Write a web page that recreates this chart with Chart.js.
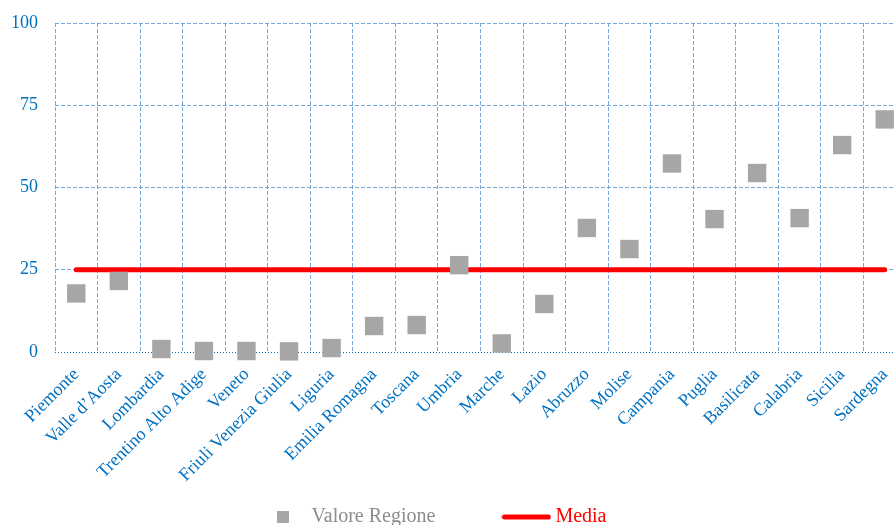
<!DOCTYPE html>
<html>
<head>
<meta charset="utf-8">
<script src="https://cdn.jsdelivr.net/npm/chart.js@4"></script>
<style>
  html, body { margin: 0; padding: 0; background: #fff; overflow: hidden; }
  #wrap { width: 894px; height: 525px; position: relative; overflow: hidden; }
</style>
</head>
<body>
<!-- the plot runs past the right edge of the picture, as in the original -->
<div id="wrap"><canvas id="chart" width="906" height="525"></canvas></div>
<script>
const regioni = [
  "Piemonte", "Valle d\u2019Aosta", "Lombardia", "Trentino Alto Adige", "Veneto",
  "Friuli Venezia Giulia", "Liguria", "Emilia Romagna", "Toscana", "Umbria",
  "Marche", "Lazio", "Abruzzo", "Molise", "Campania",
  "Puglia", "Basilicata", "Calabria", "Sicilia", "Sardegna"
];
const valoreRegione = [
  17.8, 21.6, 0.9, 0.3, 0.3, 0.2, 1.2, 7.9, 8.2, 26.4,
  2.6, 14.6, 37.7, 31.3, 57.3, 40.4, 54.4, 40.7, 62.9, 70.7
];
const media = regioni.map(() => 25);
const yTicks = [0, 25, 50, 75, 100];

const BLUE = "#0070c0";
const GRID = "rgba(91,155,213,0.85)";
const GREY = "#a6a6a6";
const RED = "#ff0000";
const SERIF = "'Liberation Serif', 'Times New Roman', serif";

/* ---------- LEGEND MARKERS ---------- */
function legendSquare() {
  const c = document.createElement("canvas");
  c.width = 12; c.height = 12;
  const g = c.getContext("2d");
  g.fillStyle = GREY;
  g.fillRect(0, 0, 12, 12);
  return c;
}

function legendLine() {
  const c = document.createElement("canvas");
  c.width = 50; c.height = 6;
  const g = c.getContext("2d");
  g.strokeStyle = RED;
  g.lineWidth = 5;
  g.lineCap = "round";
  g.beginPath();
  g.moveTo(3, 3);
  g.lineTo(47, 3);
  g.stroke();
  return c;
}

// legend sits a bit left of centre in the original; also let the rotated
// x labels run down into the legend band without being clipped
const layoutTweaks = {
  id: "layoutTweaks",
  afterLayout(chart) {
    if (chart.legend) chart.legend.right -= 36;
    if (chart.scales.x) chart.scales.x.bottom = chart.height;
  }
};

/* ---------- CHART ---------- */
const ctx = document.getElementById("chart");
new Chart(ctx, {
  type: "line",
  data: {
    labels: regioni,
    datasets: [
      {
        label: "Valore Regione",
        data: valoreRegione,
        showLine: false,
        clip: false,
        pointStyle: "rect",
        pointRadius: 13,
        pointHoverRadius: 13,
        backgroundColor: GREY,
        borderColor: GREY,
        borderWidth: 0,
        order: 0
      },
      {
        label: "Media",
        data: media,
        borderColor: RED,
        backgroundColor: RED,
        borderWidth: 5,
        borderCapStyle: "round",
        pointRadius: 0,
        order: 1
      }
    ]
  },
  plugins: [layoutTweaks],
  options: {
    responsive: false,
    animation: false,
    maintainAspectRatio: false,
    layout: { autoPadding: false, padding: { top: 23, right: 0, bottom: -12, left: 0 } },
    plugins: {
      tooltip: { enabled: false },
      legend: {
        position: "bottom",
        labels: {
          usePointStyle: true,
          pointStyleWidth: 38,
          boxHeight: 12,
          padding: 72,
          font: { family: SERIF, size: 20 },
          generateLabels(chart) {
            const items = Chart.defaults.plugins.legend.labels.generateLabels(chart);
            items.forEach(it => {
              if (it.datasetIndex === 0) {
                it.fontColor = "#8c8c8c";
                it.pointStyle = legendSquare();
              } else {
                it.fontColor = RED;
                it.pointStyle = legendLine();
              }
            });
            return items;
          }
        }
      }
    },
    scales: {
      x: {
        offset: true,
        grid: {
          offset: true,
          color: GRID,
          lineWidth: 1,
          drawTicks: false
        },
        border: { display: false, dash: [4, 2] },
        ticks: {
          color: BLUE,
          autoSkip: false,
          maxRotation: 45,
          minRotation: 45,
          padding: 12,
          font: { family: SERIF, size: 18 }
        },
        afterFit(scale) {
          scale.height = 83;
          scale.paddingLeft = 0;
          scale.paddingRight = 0;
        }
      },
      y: {
        min: 0,
        max: 100,
        afterBuildTicks(scale) {
          scale.ticks = yTicks.map(v => ({ value: v }));
        },
        grid: {
          color: ctx => ctx.tick && ctx.tick.value === 0 ? BLUE : GRID,
          lineWidth: 1,
          drawTicks: false
        },
        border: {
          display: false,
          dash: ctx => ctx.tick && ctx.tick.value === 0 ? [1, 2] : [4, 2]
        },
        ticks: {
          color: BLUE,
          padding: 17,
          font: { family: SERIF, size: 18 }
        },
        afterFit(scale) {
          scale.width = 55;
          scale.paddingTop = 0;
          scale.paddingBottom = 0;
        }
      }
    }
  }
});
</script>
</body>
</html>
